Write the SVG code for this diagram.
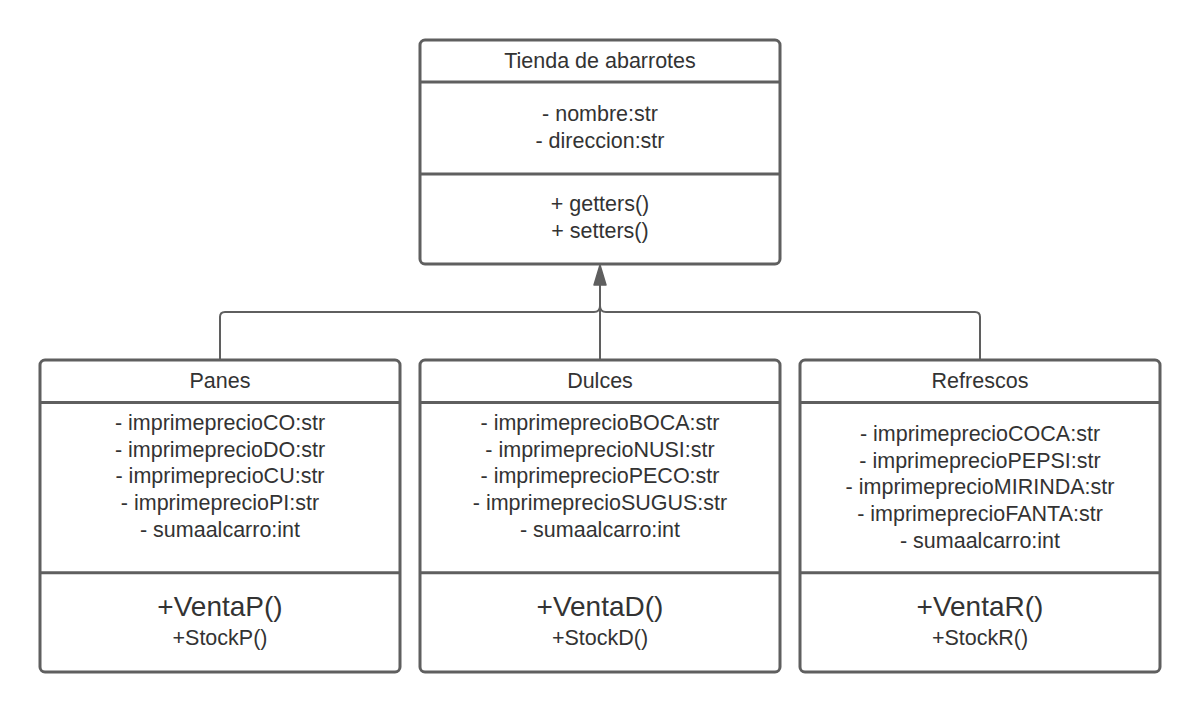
<svg xmlns="http://www.w3.org/2000/svg" width="1200" height="712" viewBox="0 0 1200 712">
<style>
.box{fill:#ffffff;stroke:#5f5f5f;stroke-width:3}
.div{stroke:#5f5f5f;stroke-width:3;fill:none}
.con{stroke:#5f5f5f;stroke-width:2;fill:none}
text{font-family:"Liberation Sans",Arial,sans-serif;fill:#333333;text-anchor:middle;font-size:21.5px}
.big{font-size:28px}
</style>
<rect width="1200" height="712" fill="#ffffff"/>
<g id="connectors">
<path class="con" d="M220 360 V317 Q220 312 225 312 H594 Q600 312 600 306 V284"/>
<path class="con" d="M980 360 V317 Q980 312 975 312 H606 Q600 312 600 306 V284"/>
<path class="con" d="M600 360 V284"/>
<polygon points="600,265 594,285 606,285" fill="#5f5f5f" stroke="#5f5f5f" stroke-width="1.5" stroke-linejoin="round"/>
</g>
<g id="tienda">
<rect class="box" x="420" y="40" width="360" height="224" rx="5"/>
<line class="div" x1="420" y1="82" x2="780" y2="82"/>
<line class="div" x1="420" y1="174" x2="780" y2="174"/>
<text x="600" y="67.5">Tienda de abarrotes</text>
<text x="600" y="121">- nombre:str</text>
<text x="600" y="147.7">- direccion:str</text>
<text x="600" y="211">+ getters()</text>
<text x="600" y="238">+ setters()</text>
</g>
<g id="panes">
<rect class="box" x="40" y="360" width="360" height="312" rx="5"/>
<line class="div" x1="40" y1="402.5" x2="400" y2="402.5"/>
<line class="div" x1="40" y1="572.7" x2="400" y2="572.7"/>
<text x="220" y="387.5">Panes</text>
<text x="220" y="430">- imprimeprecioCO:str</text>
<text x="220" y="456.7">- imprimeprecioDO:str</text>
<text x="220" y="483.3">- imprimeprecioCU:str</text>
<text x="220" y="510">- imprimeprecioPI:str</text>
<text x="220" y="536.7">- sumaalcarro:int</text>
<text class="big" x="220" y="615.5">+VentaP()</text>
<text x="220" y="645">+StockP()</text>
</g>
<g id="dulces">
<rect class="box" x="420" y="360" width="360" height="312" rx="5"/>
<line class="div" x1="420" y1="402.5" x2="780" y2="402.5"/>
<line class="div" x1="420" y1="572.7" x2="780" y2="572.7"/>
<text x="600" y="387.5">Dulces</text>
<text x="600" y="430">- imprimeprecioBOCA:str</text>
<text x="600" y="456.7">- imprimeprecioNUSI:str</text>
<text x="600" y="483.3">- imprimeprecioPECO:str</text>
<text x="600" y="510">- imprimeprecioSUGUS:str</text>
<text x="600" y="536.7">- sumaalcarro:int</text>
<text class="big" x="600" y="615.5">+VentaD()</text>
<text x="600" y="645">+StockD()</text>
</g>
<g id="refrescos">
<rect class="box" x="800" y="360" width="360" height="312" rx="5"/>
<line class="div" x1="800" y1="402.5" x2="1160" y2="402.5"/>
<line class="div" x1="800" y1="572.7" x2="1160" y2="572.7"/>
<text x="980" y="387.5">Refrescos</text>
<text x="980" y="441">- imprimeprecioCOCA:str</text>
<text x="980" y="467.7">- imprimeprecioPEPSI:str</text>
<text x="980" y="494.3">- imprimeprecioMIRINDA:str</text>
<text x="980" y="521">- imprimeprecioFANTA:str</text>
<text x="980" y="547.7">- sumaalcarro:int</text>
<text class="big" x="980" y="615.5">+VentaR()</text>
<text x="980" y="645">+StockR()</text>
</g>
</svg>
